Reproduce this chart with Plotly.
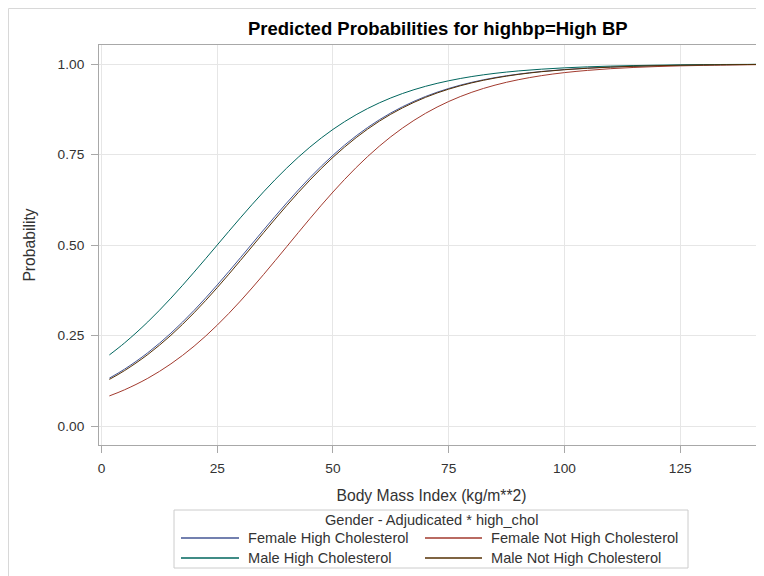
import plotly.graph_objects as go

bmi = [1.7, 5, 10, 15, 20, 25, 30, 35, 40, 45, 50, 55, 60, 65, 70, 75, 80, 85,
       90, 95, 100, 105, 110, 115, 120, 125, 130, 135, 141.7]

female_high = [0.1322, 0.1572, 0.2024, 0.2566, 0.3194, 0.3896, 0.4647, 0.5414, 0.6162,
               0.6859, 0.7481, 0.8015, 0.8459, 0.8819, 0.9104, 0.9325, 0.9495, 0.9624,
               0.9720, 0.9793, 0.9847, 0.9887, 0.9917, 0.9939, 0.9955, 0.9967, 0.9975,
               0.9982, 0.9988]
female_not_high = [0.0831, 0.1001, 0.1318, 0.1717, 0.2205, 0.2786, 0.3451, 0.4183, 0.4953,
                   0.5726, 0.6464, 0.7139, 0.7730, 0.8229, 0.8638, 0.8965, 0.9220, 0.9416,
                   0.9565, 0.9678, 0.9762, 0.9824, 0.9871, 0.9905, 0.9930, 0.9949, 0.9962,
                   0.9972, 0.9982]
male_high = [0.1963, 0.2297, 0.2875, 0.3532, 0.4250, 0.5000, 0.5750, 0.6468, 0.7125,
             0.7703, 0.8194, 0.8599, 0.8926, 0.9184, 0.9384, 0.9537, 0.9654, 0.9742,
             0.9808, 0.9857, 0.9894, 0.9922, 0.9942, 0.9957, 0.9968, 0.9976, 0.9983,
             0.9987, 0.9991]
male_not_high = [0.1287, 0.1532, 0.1975, 0.2507, 0.3128, 0.3823, 0.4571, 0.5338, 0.6089,
                 0.6792, 0.7423, 0.7966, 0.8420, 0.8787, 0.9079, 0.9306, 0.9480, 0.9612,
                 0.9712, 0.9787, 0.9842, 0.9883, 0.9914, 0.9937, 0.9953, 0.9966, 0.9975,
                 0.9981, 0.9988]

series_names = ["Female High Cholesterol", "Female Not High Cholesterol",
                "Male High Cholesterol", "Male Not High Cholesterol"]
series_values = [female_high, female_not_high, male_high, male_not_high]
series_colors = ["#445694", "#A23A2E", "#01665E", "#543005"]

x_ticks = [0, 25, 50, 75, 100, 125]
y_ticks = [0, 0.25, 0.5, 0.75, 1.0]

legend_title = "Gender - Adjudicated * high_chol"

FONT = "Liberation Sans, Arial, sans-serif"
TXT = "#333333"

# The page body has an 8px margin, so the figure is sized to fit the window
OFF = 8
W, H = 764 - OFF, 576 - OFF
# plot area in window pixels: x 99..764, y 45..445
ML, MR, MT, MB = 99 - OFF, 0, 45 - OFF, H - (445 - OFF)
PW, PH = W - ML - MR, H - MT - MB


def px(xs):  # window x pixel -> paper fraction
    return (xs - OFF - ML) / PW


def py(ys):  # window y pixel -> paper fraction
    return (H - MB - (ys - OFF)) / PH


fig = go.Figure()
for name, vals, col in zip(series_names, series_values, series_colors):
    fig.add_trace(go.Scatter(x=bmi, y=vals, mode="lines", name=name, showlegend=False,
                             line=dict(color=col, width=1, shape="spline")))

axis_common = dict(showline=True, mirror=True, linecolor="#a8a8a8", linewidth=1,
                   showgrid=True, gridcolor="#e6e6e6", gridwidth=1, zeroline=False,
                   ticks="outside", ticklen=7, tickcolor="#a8a8a8", automargin=False,
                   tickfont=dict(family=FONT, size=13.7, color=TXT))

shapes = [dict(type="rect", xref="paper", yref="paper",
               x0=px(8.5), x1=px(775), y0=py(590), y1=py(8.5),
               line=dict(color="#d8d8d8", width=1), fillcolor="rgba(0,0,0,0)",
               layer="below")]
annotations = []

# framed key below the plot
shapes.append(dict(type="rect", xref="paper", yref="paper",
                   x0=px(174), x1=px(688), y0=py(568), y1=py(510),
                   line=dict(color="#cccccc", width=1), fillcolor="white"))
annotations.append(dict(text=legend_title, xref="paper", yref="paper",
                        x=px(431), y=py(520), xanchor="center", yanchor="middle",
                        showarrow=False, font=dict(family=FONT, size=14.6, color=TXT)))
cols = [(181, 239, 246), (425, 482, 489)]
rows = [538, 558]
for i, (name, col) in enumerate(zip(series_names, series_colors)):
    (lx0, lx1, tx), ry = cols[i % 2], rows[i // 2]
    shapes.append(dict(type="line", xref="paper", yref="paper",
                       x0=px(lx0), x1=px(lx1), y0=py(ry), y1=py(ry),
                       line=dict(color=col, width=1.3)))
    annotations.append(dict(text=name, xref="paper", yref="paper",
                            x=px(tx), y=py(ry), xanchor="left", yanchor="middle",
                            showarrow=False, font=dict(family=FONT, size=14.6, color=TXT)))

fig.update_layout(
    width=W, height=H,
    margin=dict(l=ML, r=MR, t=MT, b=MB, autoexpand=False),
    paper_bgcolor="white", plot_bgcolor="white",
    font=dict(family=FONT, color=TXT),
    title=dict(text="<b>Predicted Probabilities for highbp=High BP</b>",
               font=dict(family=FONT, size=18.5, color="black"),
               x=px(437.8), xref="paper", xanchor="center",
               y=1 - (28.5 - OFF) / H, yref="container", yanchor="middle"),
    xaxis=dict(range=[-0.54, 143.1], tickvals=x_ticks, ticklabelstandoff=4,
               title=dict(text="Body Mass Index (kg/m**2)",
                          font=dict(family=FONT, size=15.7, color=TXT), standoff=14),
               **axis_common),
    yaxis=dict(range=[-0.0525, 1.0525], tickvals=y_ticks, tickformat=".2f",
               ticklabelstandoff=4,
               title=dict(text="Probability",
                          font=dict(family=FONT, size=15.7, color=TXT), standoff=18),
               **axis_common),
    showlegend=False,
    shapes=shapes,
    annotations=annotations,
)

fig.write_html("out.html")
